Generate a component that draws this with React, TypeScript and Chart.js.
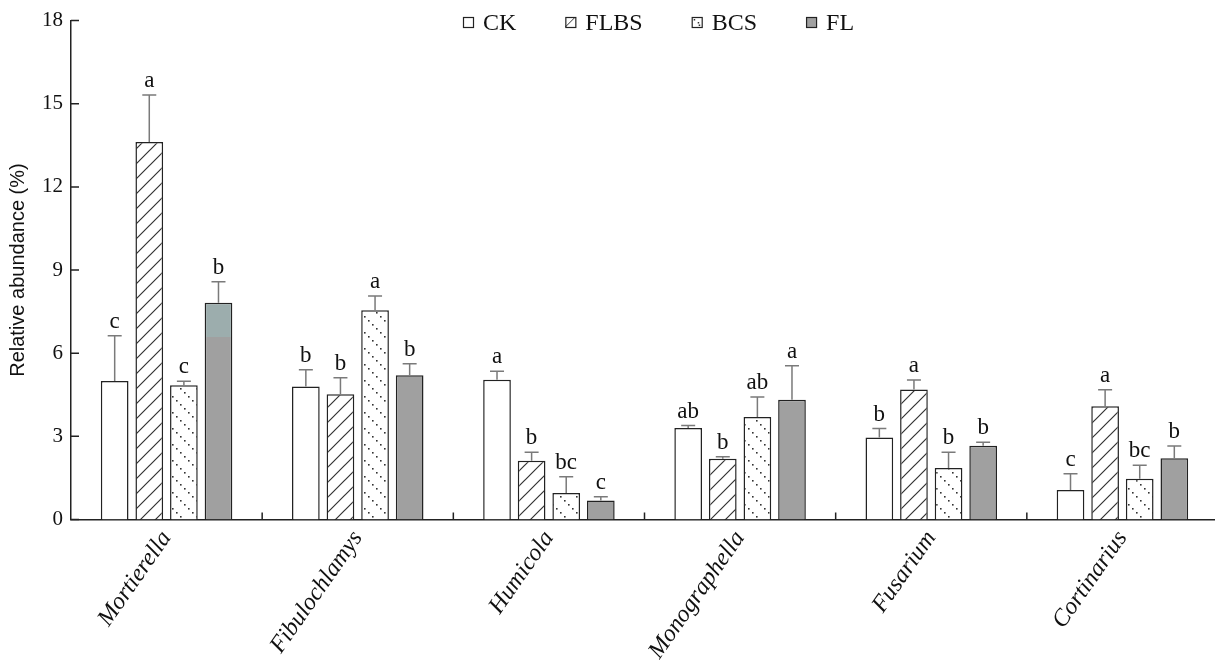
import React, { useEffect, useRef } from "react";
import { Chart, registerables } from "chart.js";

Chart.register(...registerables);

// Fungal genera and treatments
const genera = ["Mortierella", "Fibulochlamys", "Humicola", "Monographella", "Fusarium", "Cortinarius"];
const treatments = ["CK", "FLBS", "BCS", "FL"];

// Relative abundance (%), mean, standard deviation and significance letters
const ckMean = [5.0, 4.8, 5.04, 3.3, 2.96, 1.06];
const ckSd = [1.63, 0.6, 0.31, 0.09, 0.32, 0.59];
const ckSig = ["c", "b", "a", "ab", "b", "c"];

const flbsMean = [13.62, 4.52, 2.12, 2.19, 4.69, 4.09];
const flbsSd = [1.7, 0.59, 0.31, 0.07, 0.34, 0.59];
const flbsSig = ["a", "b", "b", "b", "a", "a"];

const bcsMean = [4.84, 7.55, 0.96, 3.7, 1.86, 1.47];
const bcsSd = [0.15, 0.51, 0.58, 0.72, 0.57, 0.49];
const bcsSig = ["c", "a", "bc", "ab", "b", "bc"];

const flMean = [7.82, 5.2, 0.69, 4.32, 2.66, 2.21];
const flSd = [0.76, 0.42, 0.13, 1.23, 0.13, 0.44];
const flSig = ["b", "b", "c", "a", "b", "b"];

const yTicks = [0, 3, 6, 9, 12, 15, 18];

const SERIF = '"Liberation Serif", "Times New Roman", serif';
const SANS = '"Liberation Sans", Arial, sans-serif';
const INK = "#111";
const EDGE = "#222";
const FL_GREY = "#a0a0a0";
const FL_TINT = "#9cadad";
const FL_TINT_FROM = 6.6;

function hatchPattern(ctx: CanvasRenderingContext2D) {
  const s = 15;
  const c = document.createElement("canvas");
  c.width = s;
  c.height = s;
  const g = c.getContext("2d")!;
  g.fillStyle = "#fff";
  g.fillRect(0, 0, s, s);
  g.strokeStyle = "#333";
  g.lineWidth = 1.2;
  g.beginPath();
  g.moveTo(-2, s + 2);
  g.lineTo(s + 2, -2);
  g.moveTo(-2, 2);
  g.lineTo(2, -2);
  g.moveTo(s - 2, s + 2);
  g.lineTo(s + 2, s - 2);
  g.stroke();
  return ctx.createPattern(c, "repeat")!;
}

function dotPattern(ctx: CanvasRenderingContext2D) {
  const s = 16;
  const c = document.createElement("canvas");
  c.width = s;
  c.height = s;
  const g = c.getContext("2d")!;
  g.fillStyle = "#fff";
  g.fillRect(0, 0, s, s);
  g.fillStyle = "#333";
  for (let k = 0; k < s; k += 4) {
    g.fillRect(k, k, 1.6, 1.6);
  }
  return ctx.createPattern(c, "repeat")!;
}

const decorations = {
  id: "decorations",
  afterDatasetsDraw(chart: any) {
    const { ctx } = chart;
    const y = chart.scales.y;
    chart.data.datasets.forEach((ds: any, di: number) => {
      const meta = chart.getDatasetMeta(di);
      meta.data.forEach((bar: any, i: number) => {
        const v = ds.data[i];
        const base = y.getPixelForValue(v);
        const top = y.getPixelForValue(v + ds.sd[i]);
        ctx.save();
        ctx.strokeStyle = "#7a7a7a";
        ctx.lineWidth = 1.5;
        ctx.beginPath();
        ctx.moveTo(bar.x, base);
        ctx.lineTo(bar.x, top);
        ctx.moveTo(bar.x - 7, top);
        ctx.lineTo(bar.x + 7, top);
        ctx.stroke();
        ctx.fillStyle = INK;
        ctx.font = `23px ${SERIF}`;
        ctx.textAlign = "center";
        ctx.textBaseline = "alphabetic";
        ctx.fillText(ds.sig[i], bar.x, top - 8);
        ctx.restore();
      });
    });
  },
  afterDraw(chart: any) {
    const { ctx, chartArea } = chart;
    const x = chart.scales.x;
    const y = chart.scales.y;
    ctx.save();
    ctx.strokeStyle = EDGE;
    ctx.lineWidth = 1.5;
    ctx.beginPath();
    yTicks.forEach((v) => {
      const py = y.getPixelForValue(v);
      ctx.moveTo(chartArea.left, py);
      ctx.lineTo(chartArea.left + 8, py);
    });
    for (let i = 1; i < genera.length; i++) {
      const px = (x.getPixelForValue(i - 1) + x.getPixelForValue(i)) / 2;
      ctx.moveTo(px, chartArea.bottom);
      ctx.lineTo(px, chartArea.bottom - 7);
    }
    ctx.stroke();

    // legend
    ctx.font = `24px ${SERIF}`;
    ctx.textBaseline = "alphabetic";
    ctx.textAlign = "left";
    let cx = 463;
    const by = 17;
    const bs = 10;
    treatments.forEach((t, k) => {
      ctx.fillStyle = k === 3 ? FL_GREY : "#fff";
      ctx.fillRect(cx, by, bs, bs);
      ctx.strokeStyle = "#333";
      ctx.lineWidth = 1;
      if (k === 1) {
        ctx.beginPath();
        ctx.moveTo(cx, by + bs);
        ctx.lineTo(cx + bs, by);
        ctx.stroke();
      }
      if (k === 2) {
        ctx.fillStyle = "#333";
        ctx.fillRect(cx + 2, by + 2, 1.5, 1.5);
        ctx.fillRect(cx + 6, by + 5, 1.5, 1.5);
        ctx.fillRect(cx + 7, by + 7.5, 1.5, 1.5);
      }
      ctx.strokeStyle = EDGE;
      ctx.lineWidth = 1.2;
      ctx.strokeRect(cx + 0.5, by + 0.5, bs, bs);
      ctx.fillStyle = INK;
      ctx.fillText(t, cx + 20, 30);
      cx += 20 + ctx.measureText(t).width + 49;
    });
    ctx.restore();
  },
};

export default function App() {
  const ref = useRef<HTMLCanvasElement | null>(null);

  useEffect(() => {
    const canvas = ref.current!;
    const c2d = canvas.getContext("2d")!;
    const hatch = hatchPattern(c2d);
    const dots = dotPattern(c2d);

    // FL fill, with the lighter blue-grey cap on the Mortierella bar
    const flFill = (context: any) => {
      const ys = context.chart.scales && context.chart.scales.y;
      if (context.dataIndex !== 0 || !ys) return FL_GREY;
      const y0 = ys.getPixelForValue(0);
      const y1 = ys.getPixelForValue(18);
      if (!Number.isFinite(y0) || !Number.isFinite(y1) || Math.abs(y0 - y1) < 1) return FL_GREY;
      const g = context.chart.ctx.createLinearGradient(0, y0, 0, y1);
      const f = FL_TINT_FROM / 18;
      g.addColorStop(0, FL_GREY);
      g.addColorStop(f, FL_GREY);
      g.addColorStop(f, FL_TINT);
      g.addColorStop(1, FL_TINT);
      return g;
    };

    const common = { borderColor: EDGE, borderWidth: 1.5, barPercentage: 0.8, categoryPercentage: 0.724 };

    const chart = new Chart(canvas, {
      type: "bar",
      data: {
        labels: genera,
        datasets: [
          { label: "CK", data: ckMean, sd: ckSd, sig: ckSig, backgroundColor: "#fff", ...common },
          { label: "FLBS", data: flbsMean, sd: flbsSd, sig: flbsSig, backgroundColor: hatch, ...common },
          { label: "BCS", data: bcsMean, sd: bcsSd, sig: bcsSig, backgroundColor: dots, ...common },
          { label: "FL", data: flMean, sd: flSd, sig: flSig, backgroundColor: flFill, ...common },
        ] as any,
      },
      options: {
        responsive: false,
        devicePixelRatio: 1,
        animation: false,
        layout: { padding: { top: 19, right: 2, left: 0, bottom: 0 } },
        plugins: { legend: { display: false }, tooltip: { enabled: false } },
        scales: {
          x: {
            grid: { display: false, drawTicks: false },
            border: { display: true, color: EDGE, width: 1.5 },
            ticks: {
              autoSkip: false,
              minRotation: 55,
              maxRotation: 55,
              padding: 6,
              color: INK,
              font: { family: SERIF, size: 24, style: "italic" },
            },
            afterFit: (s: any) => {
              s.height = 141.5;
            },
          },
          y: {
            min: 0,
            max: 18,
            grid: { display: false, drawTicks: false },
            border: { display: true, color: EDGE, width: 1.5 },
            afterBuildTicks: (s: any) => {
              s.ticks = yTicks.map((v) => ({ value: v }));
            },
            ticks: {
              padding: 8,
              color: INK,
              font: { family: SERIF, size: 21 },
            },
            title: {
              display: true,
              text: "Relative abundance (%)",
              color: INK,
              font: { family: SANS, size: 20 },
              padding: { top: 6, bottom: 0 },
            },
            afterFit: (s: any) => {
              s.width = 71;
            },
          },
        },
      } as any,
      plugins: [decorations],
    });
    chart.update();
    return () => chart.destroy();
  }, []);

  return (
    <div
      style={{
        position: "fixed",
        left: 0,
        top: 0,
        width: 1215,
        height: 661,
        overflow: "hidden",
        background: "#fff",
      }}
    >
      <canvas ref={ref} width={1220} height={661} style={{ display: "block", width: 1220, height: 661 }} />
    </div>
  );
}
